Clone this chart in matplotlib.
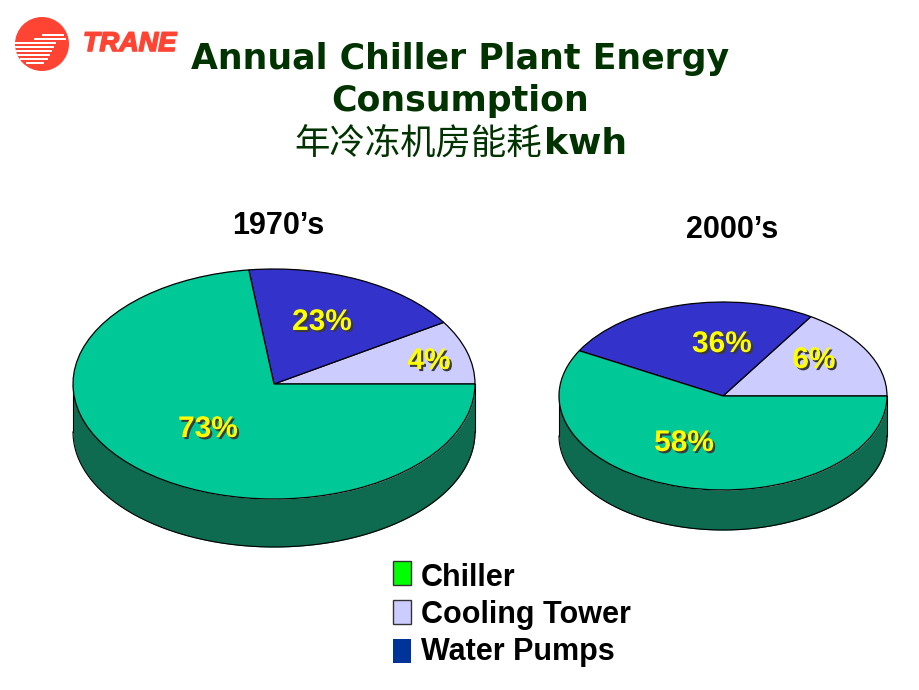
import matplotlib
matplotlib.use('Agg')
import matplotlib.pyplot as plt
import matplotlib.patheffects as pe
from matplotlib.patches import Circle, Rectangle
import numpy as np

W, H = 920, 690

categories = ['Chiller', 'Cooling Tower', 'Water Pumps']
# slice sizes as drawn (the printed labels of the small slices differ from the drawn angles)
drawn_1970 = [9, 18, 73]
drawn_2000 = [16, 26, 58]
labels_1970 = ['4%', '23%', '73%']
labels_2000 = ['6%', '36%', '58%']
period_names = ['1970\u2019s', '2000\u2019s']

slice_cols = ['#CCCCFF', '#3333CC', '#00C896']
side_col = '#0E6B50'
legend_cols = ['#00FF00', '#CCCCFF', '#003399']
legend_edges = ['#333333', '#333333', 'none']

fig = plt.figure(figsize=(W / 100, H / 100), dpi=100, facecolor='white')


def pie3d(cx, cy, rx, ry, depth, values):
    # axes box in pixels, y measured from the top of the figure
    ax = fig.add_axes([(cx - rx) / W, 1 - (cy + ry + depth) / H, 2 * rx / W, (2 * ry + depth) / H])
    d = depth / ry
    t = np.linspace(np.pi, 2 * np.pi, 200)
    ax.fill_between(np.cos(t), np.sin(t), np.sin(t) - d, color=side_col, lw=0, zorder=0)
    ax.plot(np.cos(t), np.sin(t) - d, color='black', lw=0.8, zorder=1)
    ax.plot([-1, -1], [0, -d], color='black', lw=0.8, zorder=1)
    ax.plot([1, 1], [0, -d], color='black', lw=0.8, zorder=1)
    ax.pie(values, colors=slice_cols, startangle=0, counterclock=True,
           wedgeprops={'edgecolor': 'black', 'linewidth': 0.9})
    ax.set_aspect('auto')
    ax.set_xlim(-1, 1)
    ax.set_ylim(-1 - d, 1)
    ax.axis('off')
    for c in ax.get_children():
        c.set_clip_on(False)
    return ax


pie3d(274, 384, 201, 115, 48, drawn_1970)
pie3d(723, 396, 164, 94, 40, drawn_2000)

# overlay in pixel coordinates for text and logo
ov = fig.add_axes([0, 0, 1, 1], zorder=5)
ov.set_xlim(0, W)
ov.set_ylim(H, 0)
ov.axis('off')
ov.patch.set_alpha(0)

sans = 'Liberation Sans'
wide = 'DejaVu Sans'
title_col = '#003300'
ov.text(460, 59, 'Annual Chiller Plant Energy', ha='center', va='center', family=wide,
        weight='bold', size=25, color=title_col)
ov.text(460, 101, 'Consumption', ha='center', va='center', family=wide,
        weight='bold', size=25, color=title_col)
ov.text(294, 144, '年冷冻机房能耗', ha='left', va='center', family='Noto Sans CJK SC',
        size=25.5, color=title_col)
ov.text(544, 144, 'kwh', ha='left', va='center', family=wide, weight='bold', size=26, color=title_col)

ov.text(278, 226, period_names[0], ha='center', va='center', family=sans, weight='bold', size=22, color='black')
ov.text(732, 230, period_names[1], ha='center', va='center', family=sans, weight='bold', size=22, color='black')

shadow = [pe.withSimplePatchShadow(offset=(1.5, -1.5), shadow_rgbFace='#3a3a3a', alpha=1)]
spots = [(429, 361), (322, 322), (208, 429), (814, 360), (722, 344), (684, 443)]
for (x, y), s in zip(spots, labels_1970 + labels_2000):
    ov.text(x, y, s, ha='center', va='center', family=sans, weight='bold', size=21.5,
            color='#FFFF00', path_effects=shadow)

# legend
box_y = [561, 600, 639]
text_y = [578, 615, 652]
for y, ty, name, col, ec in zip(box_y, text_y, categories, legend_cols, legend_edges):
    ov.add_patch(Rectangle((393, y), 18, 24, facecolor=col, edgecolor=ec, lw=1))
    ov.text(421, ty, name, ha='left', va='center', family=sans, weight='bold', size=22, color='black')

# logo
red = '#FF4433'
disc = Circle((42, 44), 27, facecolor=red, edgecolor='none')
ov.add_patch(disc)
stripes = [(34, 42, 64), (38, 34, 66), (42, 14, 56), (46, 14, 54), (50, 15, 52), (54, 17, 50), (58, 20, 48), (62, 26, 44)]
for y, x0, x1 in stripes:
    st = Rectangle((x0, y), x1 - x0, 1.8, facecolor='white', edgecolor='none')
    ov.add_patch(st)
    st.set_clip_path(disc)
ov.text(83, 44, 'TRANE', ha='left', va='center', family=sans, weight='bold', style='italic',
        size=19.5, color=red, path_effects=[pe.withStroke(linewidth=1.2, foreground=red)])

fig.savefig('out.png', dpi=100)
